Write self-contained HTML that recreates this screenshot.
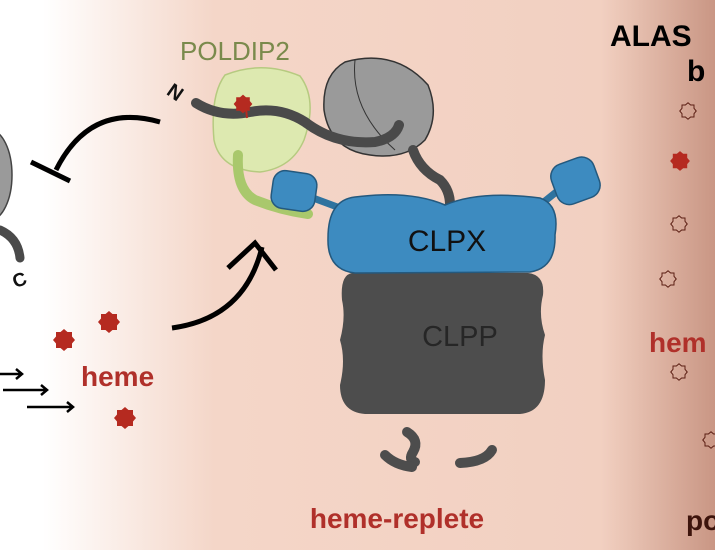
<!DOCTYPE html>
<html><head><style>html,body{margin:0;padding:0}body{width:715px;height:550px;overflow:hidden}</style></head><body>
<svg width="715" height="550" viewBox="0 0 715 550" xmlns="http://www.w3.org/2000/svg" font-family="Liberation Sans, sans-serif">
<defs>
<linearGradient id="bg" x1="0" x2="1" y1="0" y2="0">
<stop offset="0" stop-color="#ffffff"/>
<stop offset="0.06" stop-color="#ffffff"/>
<stop offset="0.30" stop-color="#f4d6c8"/>
<stop offset="0.84" stop-color="#f2d0c1"/>
<stop offset="0.88" stop-color="#e8c2b2"/>
<stop offset="1" stop-color="#c99684"/>
</linearGradient>
<g id="star"><path d="M0,-11 L3.5,-8 8,-8 8,-3.5 11,0 8,3.5 8,8 3.5,8 0,11 -3.5,8 -8,8 -8,3.5 -11,0 -8,-3.5 -8,-8 -3.5,-8Z"/><circle r="8"/></g>
<g id="ostar"><path d="M0,-11 L3.5,-8 8,-8 8,-3.5 11,0 8,3.5 8,8 3.5,8 0,11 -3.5,8 -8,8 -8,3.5 -11,0 -8,-3.5 -8,-8 -3.5,-8Z"/></g>
</defs>
<rect width="715" height="550" fill="url(#bg)"/>
<!-- left partial blob -->
<ellipse cx="-10" cy="175" rx="22" ry="45" fill="#9a9a9a" stroke="#444" stroke-width="1.5"/>
<path d="M0,230 Q18,238 20,258" fill="none" stroke="#4a4a4a" stroke-width="9" stroke-linecap="round"/>
<text x="12" y="286" font-size="19" font-weight="bold" fill="#111" transform="rotate(-20 20 278)">C</text>
<!-- inhibition arc -->
<path d="M160,122 Q90,102 56,170" fill="none" stroke="#000" stroke-width="5"/>
<line x1="31" y1="162" x2="70" y2="181" stroke="#000" stroke-width="5"/>
<!-- activation arrow -->
<path d="M172,328 Q245,318 262,247" fill="none" stroke="#000" stroke-width="5"/>
<polyline points="228,268 255,243 276,270" fill="none" stroke="#000" stroke-width="5"/>
<!-- POLDIP2 -->
<text x="180" y="60" font-size="26" fill="#7a8a4c">POLDIP2</text>
<path d="M225,75 Q262,60 300,76 Q318,100 304,140 Q292,168 260,172 Q220,170 214,140 Q210,95 225,75Z" fill="#dde9b0" stroke="#b6ca80" stroke-width="1.5"/>
<!-- grey blob -->
<path d="M345,62 Q395,48 428,85 Q440,115 425,140 Q405,160 370,155 Q330,150 324,110 Q322,75 345,62Z" fill="#9a9a9a" stroke="#333" stroke-width="1.5"/>
<path d="M355,60 Q350,110 395,150" fill="none" stroke="#333" stroke-width="1"/>
<!-- N strand -->
<text x="167" y="101" font-size="20" font-weight="bold" fill="#111" transform="rotate(35 178 95)">N</text>
<path d="M196,103 Q220,118 250,112 Q280,106 305,122 Q335,145 375,142 Q395,138 399,125" fill="none" stroke="#4a4a4a" stroke-width="10" stroke-linecap="round"/>
<use href="#star" transform="translate(243,104) scale(0.85)" fill="#b52a20"/>
<line x1="246" y1="108" x2="247" y2="118" stroke="#b52a20" stroke-width="2"/>
<path d="M413,150 Q420,170 440,180 Q450,190 450,205" fill="none" stroke="#4a4a4a" stroke-width="10" stroke-linecap="round"/>
<!-- green tail -->
<path d="M238,155 Q236,190 255,200 Q280,210 308,214" fill="none" stroke="#a9c86c" stroke-width="10" stroke-linecap="round"/>
<!-- blue knobs -->
<path d="M305,195 L340,208" stroke="#2f739f" stroke-width="7"/>
<path d="M540,205 L565,185" stroke="#2f739f" stroke-width="7"/>
<rect x="272" y="172" width="44" height="38" rx="12" fill="#3d8bc0" stroke="#24597e" stroke-width="1.5" transform="rotate(8 294 191)"/>
<rect x="553" y="160" width="45" height="42" rx="13" fill="#3d8bc0" stroke="#24597e" stroke-width="1.5" transform="rotate(-20 575 181)"/>
<!-- CLPP -->
<path d="M352,273 L528,273 Q545,275 543,295 Q538,315 545,335 Q540,355 545,380 Q545,412 520,414 L365,414 Q340,412 340,385 Q346,360 340,340 Q346,318 342,300 Q340,275 352,273Z" fill="#4d4d4d"/>
<text x="460" y="346" font-size="29" text-anchor="middle" fill="#262626">CLPP</text>
<!-- CLPX -->
<path d="M355,197 Q410,190 445,205 Q480,190 540,198 Q560,205 555,235 Q556,268 530,272 L355,273 Q327,270 328,238 Q328,200 355,197Z" fill="#3d8bc0" stroke="#24597e" stroke-width="1.5"/>
<text x="447" y="251" font-size="30" text-anchor="middle" fill="#111">CLPX</text>
<!-- fragments -->
<g fill="none" stroke="#4d4d4d" stroke-width="10" stroke-linecap="round">
<path d="M407,432 Q420,440 413,452 Q408,460 415,462"/>
<path d="M385,455 Q395,465 412,467"/>
<path d="M492,450 Q485,462 460,463"/>
</g>
<text x="397" y="528" font-size="28" font-weight="bold" text-anchor="middle" fill="#b0302a">heme-replete</text>
<!-- hemes left -->
<g fill="#b52a20">
<use href="#star" transform="translate(109,322)"/>
<use href="#star" transform="translate(64,340)"/>
<use href="#star" transform="translate(125,418)"/>
</g>
<text x="81" y="386" font-size="28" font-weight="bold" fill="#b0302a">heme</text>
<g stroke="#000" stroke-width="2.5" fill="none">
<path d="M0,374 H22 M16,369 L22,374 16,379"/>
<path d="M3,390 H47 M41,385 L47,390 41,395"/>
<path d="M27,407 H73 M67,402 L73,407 67,412"/>
</g>
<!-- right side -->
<text x="610" y="46" font-size="30" font-weight="bold" fill="#000">ALAS</text>
<text x="687" y="81" font-size="30" font-weight="bold" fill="#000">b</text>
<g fill="none" stroke="#5a1d12" stroke-width="1.3">
<use href="#ostar" transform="translate(688,111) scale(0.75)"/>
<use href="#ostar" transform="translate(679,224) scale(0.75)"/>
<use href="#ostar" transform="translate(668,279) scale(0.75)"/>
<use href="#ostar" transform="translate(679,372) scale(0.75)"/>
<use href="#ostar" transform="translate(711,440) scale(0.75)"/>
</g>
<use href="#star" transform="translate(680,161) scale(0.9)" fill="#b52a20"/>
<text x="649" y="352" font-size="28" font-weight="bold" fill="#b0302a">hem</text>
<text x="686" y="530" font-size="28" font-weight="bold" fill="#3d140c">po</text>
</svg>
</body></html>
